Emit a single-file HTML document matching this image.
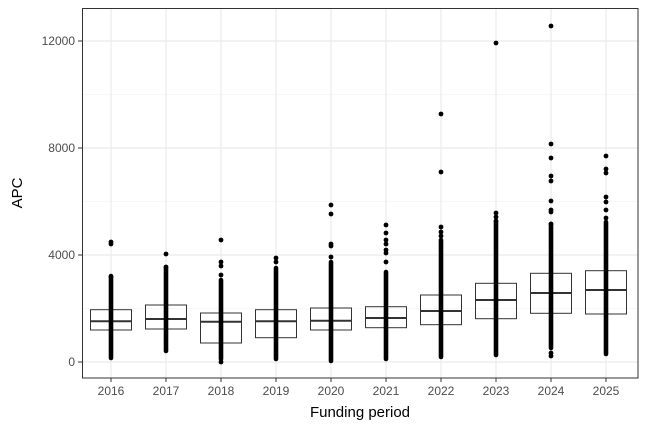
<!DOCTYPE html>
<html><head><style>
html,body{margin:0;padding:0;background:#fff;}
svg{display:block;font-family:"Liberation Sans",sans-serif;}
</style></head><body>
<svg width="648" height="432" viewBox="0 0 648 432">
<rect x="0" y="0" width="648" height="432" fill="#fff"/>
<!-- grid -->
<g stroke="#f0f0f0" stroke-width="0.6">
<line x1="82" x2="638" y1="308.5" y2="308.5"/><line x1="82" x2="638" y1="201.5" y2="201.5"/><line x1="82" x2="638" y1="94.5" y2="94.5"/>
</g>
<g stroke="#ebebeb" stroke-width="1.2">
<line x1="82" x2="638" y1="362" y2="362"/><line x1="82" x2="638" y1="255" y2="255"/><line x1="82" x2="638" y1="148" y2="148"/><line x1="82" x2="638" y1="41" y2="41"/>
<line x1="111" x2="111" y1="8" y2="378"/><line x1="166" x2="166" y1="8" y2="378"/><line x1="221" x2="221" y1="8" y2="378"/><line x1="276" x2="276" y1="8" y2="378"/><line x1="331" x2="331" y1="8" y2="378"/><line x1="386" x2="386" y1="8" y2="378"/><line x1="441" x2="441" y1="8" y2="378"/><line x1="496" x2="496" y1="8" y2="378"/><line x1="551" x2="551" y1="8" y2="378"/><line x1="606" x2="606" y1="8" y2="378"/>
</g>
<!-- boxes -->
<g fill="none" stroke="#333" stroke-width="1">
<rect x="90.5" y="309.7" width="41" height="20.3"/><line x1="90.5" x2="131.5" y1="321.3" y2="321.3" stroke-width="2"/>
<rect x="145.5" y="305" width="41" height="24"/><line x1="145.5" x2="186.5" y1="319" y2="319" stroke-width="2"/>
<rect x="200.5" y="313" width="41" height="30"/><line x1="200.5" x2="241.5" y1="321.7" y2="321.7" stroke-width="2"/>
<rect x="255.5" y="309.7" width="41" height="28"/><line x1="255.5" x2="296.5" y1="321.3" y2="321.3" stroke-width="2"/>
<rect x="310.5" y="308" width="41" height="22"/><line x1="310.5" x2="351.5" y1="320.7" y2="320.7" stroke-width="2"/>
<rect x="365.5" y="306.7" width="41" height="21"/><line x1="365.5" x2="406.5" y1="318" y2="318" stroke-width="2"/>
<rect x="420.5" y="295" width="41" height="29.7"/><line x1="420.5" x2="461.5" y1="311" y2="311" stroke-width="2"/>
<rect x="475.5" y="283.3" width="41" height="35.4"/><line x1="475.5" x2="516.5" y1="300" y2="300" stroke-width="2"/>
<rect x="530.5" y="273.3" width="41" height="40"/><line x1="530.5" x2="571.5" y1="293" y2="293" stroke-width="2"/>
<rect x="585.5" y="270.7" width="41" height="43.3"/><line x1="585.5" x2="626.5" y1="290" y2="290" stroke-width="2"/>
</g>
<!-- dense point columns -->
<g stroke="#000" stroke-width="4.6" stroke-linecap="round">
<line x1="111" x2="111" y1="276" y2="358"/>
<line x1="166" x2="166" y1="268" y2="351"/>
<line x1="221" x2="221" y1="280" y2="359"/>
<line x1="276" x2="276" y1="268" y2="359"/>
<line x1="331" x2="331" y1="262" y2="361"/>
<line x1="386" x2="386" y1="272" y2="359"/>
<line x1="441" x2="441" y1="240" y2="357"/>
<line x1="496" x2="496" y1="222" y2="355"/>
<line x1="551" x2="551" y1="224" y2="348"/>
<line x1="606" x2="606" y1="222" y2="354"/>
</g>
<g fill="#000">
<circle cx="111" cy="242" r="2.4"/><circle cx="111" cy="244" r="2.4"/><circle cx="111" cy="277" r="2.4"/>
<circle cx="166" cy="254" r="2.4"/><circle cx="166" cy="267" r="2.4"/>
<circle cx="221" cy="240" r="2.4"/><circle cx="221" cy="262" r="2.4"/><circle cx="221" cy="266" r="2.4"/><circle cx="221" cy="275" r="2.4"/><circle cx="221" cy="362" r="2.4"/>
<circle cx="276" cy="258" r="2.4"/><circle cx="276" cy="262" r="2.4"/>
<circle cx="331" cy="205" r="2.4"/><circle cx="331" cy="214" r="2.4"/><circle cx="331" cy="244" r="2.4"/><circle cx="331" cy="246" r="2.4"/><circle cx="331" cy="257" r="2.4"/>
<circle cx="386" cy="225" r="2.4"/><circle cx="386" cy="233" r="2.4"/><circle cx="386" cy="240" r="2.4"/><circle cx="386" cy="244" r="2.4"/><circle cx="386" cy="250" r="2.4"/><circle cx="386" cy="253" r="2.4"/><circle cx="386" cy="262" r="2.4"/>
<circle cx="441" cy="114" r="2.4"/><circle cx="441" cy="172" r="2.4"/><circle cx="441" cy="227" r="2.4"/><circle cx="441" cy="232" r="2.4"/><circle cx="441" cy="236" r="2.4"/>
<circle cx="496" cy="43" r="2.4"/><circle cx="496" cy="213" r="2.4"/><circle cx="496" cy="217" r="2.4"/><circle cx="496" cy="221" r="2.4"/>
<circle cx="551" cy="26" r="2.4"/><circle cx="551" cy="144" r="2.4"/><circle cx="551" cy="158" r="2.4"/><circle cx="551" cy="176" r="2.4"/><circle cx="551" cy="181" r="2.4"/><circle cx="551" cy="201" r="2.4"/><circle cx="551" cy="210" r="2.4"/><circle cx="551" cy="212" r="2.4"/><circle cx="551" cy="224" r="2.4"/><circle cx="551" cy="353" r="2.4"/><circle cx="551" cy="356" r="2.4"/>
<circle cx="606" cy="156" r="2.4"/><circle cx="606" cy="169" r="2.4"/><circle cx="606" cy="173" r="2.4"/><circle cx="606" cy="197" r="2.4"/><circle cx="606" cy="202" r="2.4"/><circle cx="606" cy="210" r="2.4"/><circle cx="606" cy="218" r="2.4"/>
</g>
<!-- panel border -->
<rect x="82.5" y="8.5" width="555.5" height="369.5" fill="none" stroke="#333" stroke-width="1"/>
<!-- ticks -->
<g stroke="#333" stroke-width="1">
<line x1="78" x2="82" y1="362" y2="362"/><line x1="78" x2="82" y1="255" y2="255"/><line x1="78" x2="82" y1="148" y2="148"/><line x1="78" x2="82" y1="41" y2="41"/>
<line x1="111" x2="111" y1="378" y2="382"/><line x1="166" x2="166" y1="378" y2="382"/><line x1="221" x2="221" y1="378" y2="382"/><line x1="276" x2="276" y1="378" y2="382"/><line x1="331" x2="331" y1="378" y2="382"/><line x1="386" x2="386" y1="378" y2="382"/><line x1="441" x2="441" y1="378" y2="382"/><line x1="496" x2="496" y1="378" y2="382"/><line x1="551" x2="551" y1="378" y2="382"/><line x1="606" x2="606" y1="378" y2="382"/>
</g>
<g fill="#4d4d4d" font-size="12" text-anchor="end">
<text x="75" y="366">0</text><text x="75" y="259">4000</text><text x="75" y="152">8000</text><text x="75" y="45">12000</text>
</g>
<g fill="#4d4d4d" font-size="12" text-anchor="middle">
<text x="111" y="395">2016</text><text x="166" y="395">2017</text><text x="221" y="395">2018</text><text x="276" y="395">2019</text><text x="331" y="395">2020</text><text x="386" y="395">2021</text><text x="441" y="395">2022</text><text x="496" y="395">2023</text><text x="551" y="395">2024</text><text x="606" y="395">2025</text>
</g>
<text x="360" y="417" font-size="15" text-anchor="middle" fill="#000">Funding period</text>
<text transform="translate(22,193) rotate(-90)" font-size="15" text-anchor="middle" fill="#000">APC</text>
</svg>
</body></html>
